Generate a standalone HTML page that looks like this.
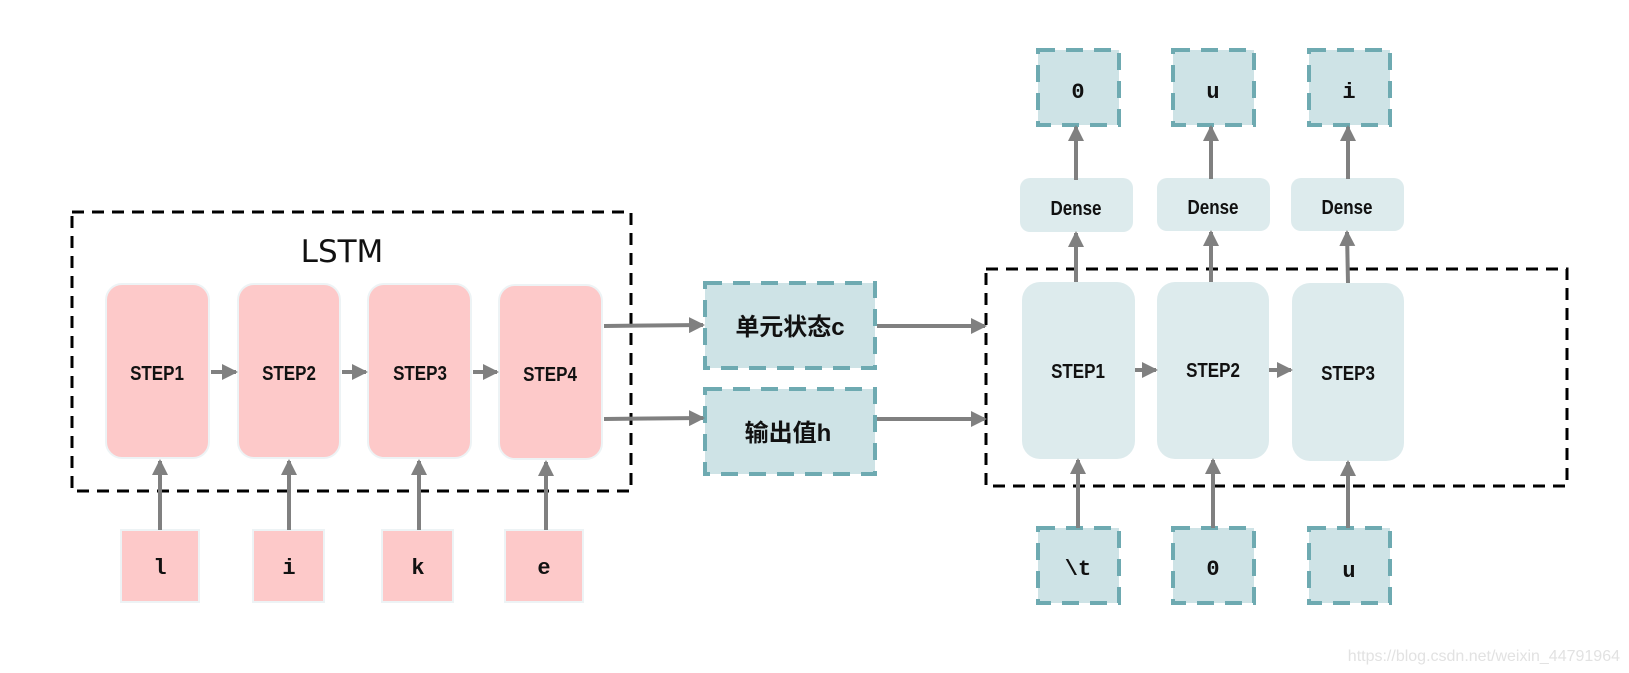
<!DOCTYPE html>
<html><head><meta charset="utf-8"><style>
html,body{margin:0;padding:0;background:#fff;}
svg{display:block}
text{font-family:"Liberation Sans","Noto Sans CJK SC",sans-serif;font-weight:bold;fill:#111}
.m{font-family:"Liberation Mono","DejaVu Sans Mono",monospace;font-size:22px}
</style></head><body>
<svg width="1629" height="673" viewBox="0 0 1629 673" xmlns="http://www.w3.org/2000/svg">
<defs>
<marker id="a" markerWidth="4" markerHeight="4" refX="3.5" refY="2" orient="auto" markerUnits="strokeWidth">
<path d="M0,0 L4,2 L0,4 z" fill="#808080"/></marker>
</defs>
<g fill="none" stroke="#000" stroke-width="3" stroke-dasharray="12 8">
<rect x="72" y="212" width="559" height="279"/>
<rect x="986" y="269" width="581" height="217"/>
</g>
<text x="342" y="262" text-anchor="middle" style="font-weight:normal;font-size:31px;font-family:'DejaVu Sans','Liberation Sans',sans-serif">LSTM</text>
<g fill="#fdc9c9" stroke="#edf3f5" stroke-width="2">
<rect x="106" y="284" width="103" height="174" rx="16"/>
<rect x="238" y="284" width="102" height="174" rx="16"/>
<rect x="368" y="284" width="103" height="174" rx="16"/>
<rect x="499" y="285" width="103" height="174" rx="16"/>
<rect x="121" y="530" width="78" height="72"/>
<rect x="253" y="530" width="71" height="72"/>
<rect x="382" y="530" width="71" height="72"/>
<rect x="505" y="530" width="78" height="72"/>
</g>
<g fill="#ddebed">
<rect x="1022" y="282" width="113" height="177" rx="18"/>
<rect x="1157" y="282" width="112" height="177" rx="18"/>
<rect x="1292" y="283" width="112" height="178" rx="18"/>
<rect x="1020" y="178" width="113" height="54" rx="10"/>
<rect x="1157" y="178" width="113" height="53" rx="10"/>
<rect x="1291" y="178" width="113" height="53" rx="10"/>
</g>
<g fill="#cee3e6" stroke="#6eaab1" stroke-width="4" stroke-dasharray="17 11">
<rect x="705" y="283" width="170" height="85"/>
<rect x="705" y="389" width="170" height="85"/>
<rect x="1038" y="50" width="81" height="75"/>
<rect x="1173" y="50" width="81" height="75"/>
<rect x="1309" y="50" width="81" height="75"/>
<rect x="1038" y="528" width="81" height="75"/>
<rect x="1173" y="528" width="81" height="75"/>
<rect x="1309" y="528" width="81" height="75"/>
</g>
<g stroke="#808080" stroke-width="4" marker-end="url(#a)" fill="none">
<line x1="211" y1="372" x2="236" y2="372"/>
<line x1="342" y1="372" x2="366" y2="372"/>
<line x1="473" y1="372" x2="497" y2="372"/>
<line x1="160" y1="530" x2="160" y2="461"/>
<line x1="289" y1="530" x2="289" y2="461"/>
<line x1="419" y1="530" x2="419" y2="461"/>
<line x1="546" y1="530" x2="546" y2="462"/>
<line x1="604" y1="326" x2="703" y2="325"/>
<line x1="604" y1="419" x2="703" y2="418"/>
<line x1="877" y1="326" x2="985" y2="326"/>
<line x1="877" y1="419" x2="985" y2="419"/>
<line x1="1135" y1="370" x2="1156" y2="370"/>
<line x1="1269" y1="370" x2="1291" y2="370"/>
<line x1="1078" y1="528" x2="1078" y2="460"/>
<line x1="1213" y1="528" x2="1213" y2="460"/>
<line x1="1348" y1="528" x2="1348" y2="462"/>
<line x1="1076" y1="282" x2="1076" y2="233"/>
<line x1="1211" y1="282" x2="1211" y2="232"/>
<line x1="1348" y1="283" x2="1347" y2="232"/>
<line x1="1076" y1="180" x2="1076" y2="127"/>
<line x1="1211" y1="179" x2="1211" y2="127"/>
<line x1="1348" y1="179" x2="1348" y2="127"/>
</g>
<g font-size="20" text-anchor="middle">
<text transform="translate(157,380) scale(0.85,1)">STEP1</text>
<text transform="translate(289,380) scale(0.85,1)">STEP2</text>
<text transform="translate(420,380) scale(0.85,1)">STEP3</text>
<text transform="translate(550,381) scale(0.85,1)">STEP4</text>
<text transform="translate(1078,378) scale(0.85,1)">STEP1</text>
<text transform="translate(1213,377) scale(0.85,1)">STEP2</text>
<text transform="translate(1348,380) scale(0.85,1)">STEP3</text>
<text transform="translate(1076,215) scale(0.85,1)">Dense</text>
<text transform="translate(1213,214) scale(0.85,1)">Dense</text>
<text transform="translate(1347,214) scale(0.85,1)">Dense</text>
</g>
<g class="m" text-anchor="middle">
<text class="m" x="160" y="574">l</text>
<text class="m" x="289" y="574">i</text>
<text class="m" x="418" y="574">k</text>
<text class="m" x="544" y="574">e</text>
<text class="m" x="1078" y="98">0</text>
<text class="m" x="1213" y="98">u</text>
<text class="m" x="1349" y="98">i</text>
<text class="m" x="1078" y="575">\t</text>
<text class="m" x="1213" y="575">0</text>
<text class="m" x="1349" y="577">u</text>
</g>
<text x="790" y="335" font-size="24" text-anchor="middle">单元状态c</text>
<text x="788" y="441" font-size="24" text-anchor="middle">输出值h</text>
<text x="1620" y="661" font-size="16" text-anchor="end" style="font-weight:normal;fill:#e2e2e2">https://blog.csdn.net/weixin_44791964</text>
</svg>
</body></html>
